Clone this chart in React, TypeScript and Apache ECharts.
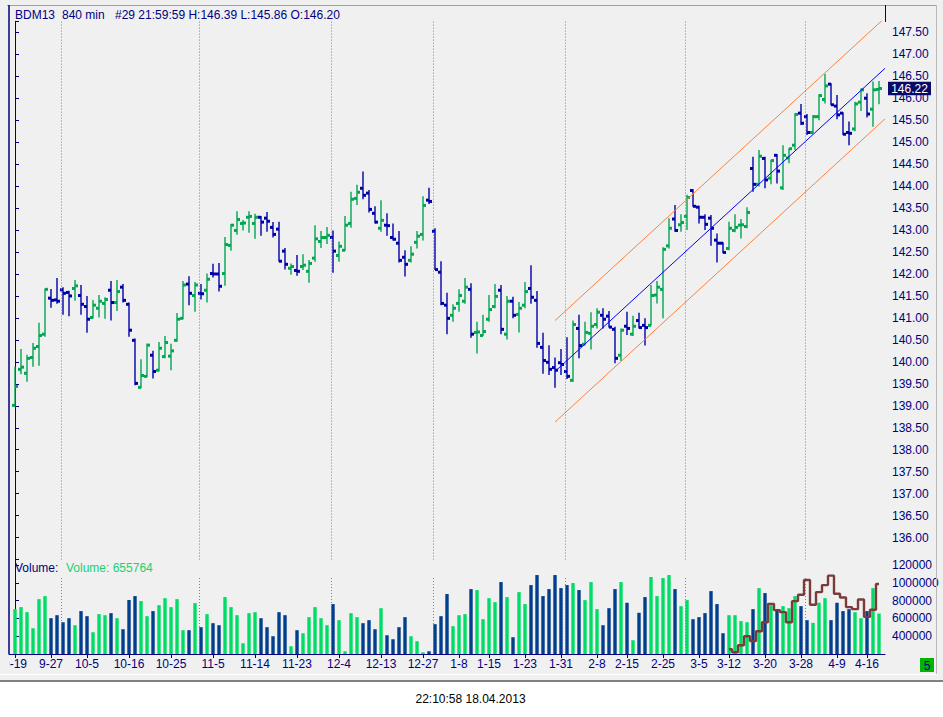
import React, { useEffect, useRef } from 'react';
import * as echarts from 'echarts';

// trading days (one 840-min bar per day)
const dates = [
  '9-19', '9-20', '9-21', '9-24', '9-25', '9-26', '9-27', '9-28',
  '10-1', '10-2', '10-3', '10-4', '10-5', '10-8', '10-9', '10-10', '10-11', '10-12', '10-15', '10-16', '10-17', '10-18', '10-19', '10-22', '10-23', '10-24', '10-25', '10-26', '10-29', '10-30', '10-31',
  '11-1', '11-2', '11-5', '11-6', '11-7', '11-8', '11-9', '11-12', '11-13', '11-14', '11-15', '11-16', '11-19', '11-20', '11-21', '11-22', '11-23', '11-26', '11-27', '11-28', '11-29', '11-30',
  '12-3', '12-4', '12-5', '12-6', '12-7', '12-10', '12-11', '12-12', '12-13', '12-14', '12-17', '12-18', '12-19', '12-20', '12-21', '12-27', '12-28',
  '1-2', '1-3', '1-4', '1-7', '1-8', '1-9', '1-10', '1-11', '1-14', '1-15', '1-16', '1-17', '1-18', '1-21', '1-22', '1-23', '1-24', '1-25', '1-28', '1-29', '1-30', '1-31',
  '2-1', '2-4', '2-5', '2-6', '2-7', '2-8', '2-11', '2-12', '2-13', '2-14', '2-15', '2-18', '2-19', '2-20', '2-21', '2-22', '2-25', '2-26', '2-27', '2-28',
  '3-1', '3-4', '3-5', '3-6', '3-7', '3-8', '3-11', '3-12', '3-13', '3-14', '3-15', '3-18', '3-19', '3-20', '3-21', '3-22', '3-25', '3-26', '3-27', '3-28',
  '4-2', '4-3', '4-4', '4-5', '4-8', '4-9', '4-10', '4-11', '4-12', '4-15', '4-16', '4-17', '4-18',
];

// indices of the labelled dates on the time axis
const labelIdx = [0, 6, 12, 19, 26, 33, 40, 47, 54, 61, 68, 74, 79, 85, 91, 97, 102, 108, 114, 119, 125, 131, 137, 142];
// first bar of each month (dotted separators)
const monthStarts = [8, 31, 53, 70, 92, 112, 132];

const opens = [
  139.01, 139.83, 139.74, 140.10, 140.35, 140.63, 141.45, 141.41, 141.64, 141.58,
  141.67, 141.51, 141.26, 141.01, 141.22, 141.33, 141.63, 141.35, 141.70, 141.31,
  140.49, 139.42, 139.67, 140.15, 139.81, 140.12, 140.13, 140.49, 140.99, 141.77,
  141.51, 141.56, 141.63, 142.01, 142.00, 142.01, 142.65, 142.99, 143.15, 143.29,
  143.15, 143.29, 143.27, 143.06, 143.02, 142.52, 142.13, 142.08, 142.17, 142.06,
  142.36, 142.74, 142.83, 142.83, 142.42, 142.54, 143.15, 143.72, 143.95, 143.84,
  143.38, 143.04, 143.11, 142.83, 142.70, 142.38, 142.31, 142.72, 142.90, 143.68,
  142.97, 142.04, 141.29, 141.06, 141.33, 141.38, 141.65, 140.67, 140.60, 140.97,
  141.26, 141.63, 140.63, 141.38, 141.08, 141.29, 141.67, 141.40, 140.33, 139.99,
  139.87, 139.98, 139.78, 139.58, 140.76, 140.40, 140.65, 140.85, 141.06, 141.04,
  140.74, 140.15, 140.81, 140.63, 140.94, 140.83, 140.83, 141.52, 141.65, 142.64,
  143.25, 143.12, 143.31, 143.90, 143.52, 143.29, 143.27, 142.77, 142.70, 142.58,
  142.99, 143.11, 143.08, 144.40, 144.04, 144.63, 144.18, 144.70, 143.96, 144.64,
  144.93, 145.66, 145.58, 145.22, 145.58, 145.97, 146.32, 145.82, 145.66, 145.22,
  145.30, 145.91, 146.00, 145.75, 146.20,
];
const highs = [
  139.89, 140.29, 140.16, 140.43, 140.89, 141.67, 141.66, 141.91, 141.70, 141.62,
  141.86, 141.75, 141.50, 141.41, 141.52, 141.47, 141.84, 141.86, 141.77, 141.35,
  140.53, 140.06, 140.42, 140.25, 140.45, 140.59, 140.41, 141.11, 141.84, 141.95,
  141.82, 141.77, 142.01, 142.23, 142.25, 142.84, 143.14, 143.43, 143.23, 143.43,
  143.37, 143.32, 143.41, 143.18, 143.19, 142.59, 142.24, 142.43, 142.45, 142.32,
  143.11, 142.98, 143.07, 142.99, 142.74, 143.32, 143.87, 144.03, 144.33, 143.91,
  143.54, 143.68, 143.38, 143.15, 142.98, 142.54, 142.63, 142.98, 143.77, 143.96,
  143.04, 142.29, 141.57, 141.31, 141.65, 141.91, 141.79, 140.91, 141.07, 141.52,
  141.77, 141.75, 141.50, 141.48, 141.36, 141.82, 142.20, 141.61, 140.66, 140.38,
  140.10, 140.29, 140.56, 140.94, 141.07, 140.91, 141.13, 141.22, 141.22, 141.16,
  140.80, 140.76, 141.14, 141.05, 141.12, 140.99, 141.75, 141.84, 142.61, 143.27,
  143.57, 143.36, 143.80, 143.93, 143.55, 143.36, 143.34, 142.92, 142.72, 143.19,
  143.36, 143.25, 143.52, 144.67, 144.82, 144.67, 144.60, 144.73, 144.93, 144.86,
  145.66, 145.87, 145.64, 145.62, 146.09, 146.55, 146.34, 146.07, 145.68, 145.47,
  145.92, 146.22, 146.11, 146.38, 146.39,
];
const lows = [
  138.98, 139.72, 139.55, 139.89, 139.91, 140.57, 141.23, 141.32, 141.07, 141.04,
  141.39, 141.07, 140.66, 140.99, 141.01, 140.98, 140.94, 141.16, 141.35, 140.57,
  139.47, 139.40, 139.65, 139.62, 139.78, 140.08, 139.81, 140.46, 140.97, 141.29,
  141.14, 141.42, 141.35, 141.92, 141.60, 141.73, 142.53, 142.89, 142.99, 142.94,
  142.80, 142.87, 142.96, 142.83, 142.28, 142.10, 141.98, 141.96, 142.09, 141.80,
  142.28, 142.59, 142.68, 142.03, 142.28, 142.52, 143.05, 143.57, 143.70, 143.40,
  143.15, 142.96, 142.87, 142.76, 142.26, 141.94, 142.26, 142.58, 142.76, 143.59,
  142.09, 141.29, 140.63, 140.91, 141.14, 141.32, 140.55, 140.19, 140.59, 140.91,
  141.22, 140.63, 140.51, 140.99, 140.67, 141.22, 141.32, 140.32, 139.73, 139.70,
  139.41, 139.70, 139.61, 139.55, 140.08, 140.38, 140.28, 140.76, 140.76, 140.78,
  139.97, 140.02, 140.61, 140.59, 140.76, 140.37, 140.82, 141.33, 140.99, 142.58,
  142.96, 142.96, 143.00, 143.53, 143.15, 143.00, 142.64, 142.26, 142.47, 142.54,
  142.95, 142.81, 143.04, 143.87, 143.99, 143.95, 144.04, 144.06, 143.91, 144.52,
  144.82, 145.39, 145.16, 145.20, 145.50, 145.88, 145.84, 145.52, 145.16, 144.93,
  145.25, 145.71, 145.56, 145.35, 145.86,
];
const closes = [
  139.44, 139.88, 140.08, 140.31, 140.60, 141.65, 141.40, 141.38, 141.56, 141.50,
  141.73, 141.31, 140.97, 141.29, 141.38, 141.42, 141.35, 141.60, 141.40, 140.72,
  139.51, 139.69, 140.38, 139.78, 140.31, 140.44, 140.25, 140.97, 141.75, 141.56,
  141.75, 141.55, 141.88, 142.00, 141.72, 142.67, 143.11, 143.24, 143.16, 143.31,
  143.29, 143.18, 143.20, 142.90, 142.29, 142.22, 142.17, 142.06, 142.20, 142.24,
  142.80, 142.83, 142.88, 142.52, 142.63, 143.11, 143.70, 143.86, 143.79, 143.47,
  143.18, 143.22, 143.10, 142.79, 142.31, 142.22, 142.45, 142.86, 143.56, 143.65,
  142.10, 141.33, 140.99, 141.22, 141.51, 141.70, 140.63, 140.68, 140.69, 141.19,
  141.49, 140.74, 141.38, 141.06, 141.22, 141.60, 141.47, 140.42, 140.03, 139.83,
  139.81, 139.94, 139.67, 140.85, 140.37, 140.67, 140.81, 141.13, 140.97, 140.79,
  140.08, 140.72, 140.76, 140.81, 140.78, 140.78, 141.51, 141.70, 142.56, 143.04,
  142.99, 143.17, 143.74, 143.54, 143.29, 143.13, 143.04, 142.70, 142.49, 143.04,
  143.06, 143.12, 143.40, 144.04, 144.68, 144.14, 144.58, 144.34, 144.70, 144.85,
  145.63, 145.43, 145.22, 145.58, 146.06, 146.28, 145.85, 145.62, 145.18, 145.20,
  145.87, 146.19, 145.64, 146.19, 146.22,
];
const volumes = [
  705000, 728000, 671000, 490000, 818000, 852000, 603000, 637000, 558000, 603000,
  524000, 683000, 626000, 445000, 649000, 637000, 660000, 603000, 479000, 807000,
  852000, 796000, 626000, 683000, 750000, 829000, 728000, 818000, 468000, 468000,
  773000, 502000, 649000, 547000, 524000, 841000, 728000, 637000, 321000, 660000,
  671000, 603000, 502000, 400000, 671000, 637000, 287000, 468000, 434000, 615000,
  728000, 603000, 524000, 762000, 581000, 231000, 660000, 615000, 547000, 581000,
  479000, 716000, 411000, 366000, 502000, 615000, 400000, 344000, 219000, 231000,
  536000, 626000, 875000, 513000, 637000, 649000, 931000, 920000, 592000, 829000,
  784000, 1010000, 841000, 389000, 897000, 762000, 976000, 1089000, 852000, 931000,
  1089000, 942000, 976000, 999000, 920000, 807000, 1010000, 705000, 524000, 716000,
  931000, 1010000, 777000, 355000, 664000, 841000, 1067000, 852000, 1055000, 1089000,
  931000, 739000, 807000, 592000, 615000, 660000, 908000, 762000, 434000, 637000,
  637000, 570000, 558000, 705000, 942000, 886000, 750000, 705000, 739000, 716000,
  852000, 739000, 581000, 551000, 777000, 829000, 581000, 777000, 683000, 705000,
  671000, 603000, 683000, 942000, 655764,
];

// brown step indicator in the volume panel, starting at bar 119 (3-12)
const stepStart = 119;
const stepValues = [
  253000, 219000, 298000, 400000, 347000, 457000, 558000, 765000, 694000, 671000,
  558000, 795000, 867000, 1033000, 754000, 897000, 976000, 1082000, 878000, 837000,
  728000, 705000, 814000, 618000, 698000, 988000,
];

// regression channel (bar index -> price)
const channelX = [90, 145];
const channelMid = [139.78, 146.68];
const channelUpper = [140.94, 147.83];
const channelLower = [138.63, 145.53];

const NAVY = '#000080';
const UP = '#00a651';
const DOWN = '#0000a8';
const VUP = '#00dd66';
const VDOWN = '#003e8e';
const FONT = 'Liberation Sans';

export default function App() {
  const ref = useRef<HTMLDivElement>(null);

  useEffect(() => {
    const el = ref.current;
    if (!el) return;
    const chart = echarts.init(el, null, { renderer: 'svg' });
    const n = dates.length;
    const last = n - 1;
    const ohlc = dates.map((_, i) => [i, opens[i], highs[i], lows[i], closes[i]]);
    const vol = volumes.map((v, i) => ({
      value: [i, v],
      itemStyle: { color: closes[i] >= opens[i] ? VUP : VDOWN },
    }));
    const step = stepValues.map((v, j) => [stepStart + j, v]);
    const chan = (ys: number[]) => channelX.map((x, j) => [x, ys[j]]);
    const volMin = 200000;
    const volGridTop = 1078000;

    const option: any = {
      animation: false,
      textStyle: { fontFamily: FONT },
      grid: [
        { left: 9, top: 21.3, width: 876, height: 538.3 },
        { left: 9, top: 559.6, width: 876, height: 94.4 },
      ],
      xAxis: [
        { type: 'value', gridIndex: 0, min: -1, max: 145, show: false },
        {
          type: 'value', gridIndex: 1, min: -1, max: 145, position: 'bottom',
          axisLine: { show: true, onZero: false, lineStyle: { color: NAVY, width: 1 } },
          axisTick: { show: true, length: 4, lineStyle: { color: NAVY }, customValues: labelIdx },
          axisLabel: {
            show: true, customValues: labelIdx, color: NAVY, fontSize: 12, fontFamily: FONT, margin: 4,
            formatter: (v: number) => dates[Math.round(v)] ?? '',
          },
          splitLine: { show: false },
        },
      ],
      yAxis: [
        {
          type: 'value', gridIndex: 0, position: 'right', min: 135.5, max: 147.75, interval: 0.5,
          axisLine: { show: true, lineStyle: { color: NAVY, width: 1 } },
          axisTick: { show: true, length: 4, lineStyle: { color: NAVY } },
          axisLabel: {
            color: NAVY, fontSize: 12, fontFamily: FONT, margin: 7,
            formatter: (v: number) => (v < 135.9 || v > 147.6 ? '' : v.toFixed(2)),
          },
          splitLine: { show: false },
        },
        {
          type: 'value', gridIndex: 1, position: 'right', min: volMin, max: 1263000, interval: 200000,
          axisLine: { show: true, lineStyle: { color: NAVY, width: 1 } },
          axisTick: { show: true, length: 4, lineStyle: { color: NAVY } },
          axisLabel: {
            color: NAVY, fontSize: 12, fontFamily: FONT, margin: 7,
            formatter: (v: number) =>
              v === 1200000 ? '120000' : v >= 400000 && v <= 1000000 ? String(v) : '',
          },
          splitLine: { show: false },
        },
      ],
      series: [
        {
          type: 'line', xAxisIndex: 0, yAxisIndex: 0, data: chan(channelMid),
          symbol: 'none', lineStyle: { color: '#0000ff', width: 1 }, clip: true, silent: true,
          markLine: {
            silent: true, symbol: ['none', 'none'], label: { show: false },
            lineStyle: { color: '#808080', type: [1, 2], width: 1 },
            data: monthStarts.map((k) => ({ xAxis: k - 0.3 })),
          },
        },
        {
          type: 'line', xAxisIndex: 0, yAxisIndex: 0, data: chan(channelUpper),
          symbol: 'none', lineStyle: { color: '#ff7f3a', width: 1 }, clip: true, silent: true,
        },
        {
          type: 'line', xAxisIndex: 0, yAxisIndex: 0, data: chan(channelLower),
          symbol: 'none', lineStyle: { color: '#ff7f3a', width: 1 }, clip: true, silent: true,
        },
        {
          type: 'custom', xAxisIndex: 0, yAxisIndex: 0, data: ohlc,
          encode: { x: 0, y: [1, 2, 3, 4] }, silent: true,
          renderItem: (_p: any, api: any) => {
            const x = api.value(0);
            const o = api.value(1), h = api.value(2), l = api.value(3), c = api.value(4);
            const col = c >= o ? UP : DOWN;
            const pH = api.coord([x, h]);
            const pL = api.coord([x, l]);
            const pO = api.coord([x, o]);
            const pC = api.coord([x, c]);
            const xc = pH[0];
            return {
              type: 'group',
              children: [
                { type: 'rect', shape: { x: xc - 0.7, y: pH[1], width: 1.4, height: Math.max(pL[1] - pH[1], 1) }, style: { fill: col } },
                { type: 'rect', shape: { x: xc - 3, y: pO[1] - 1.5, width: 3, height: 3 }, style: { fill: col } },
                { type: 'rect', shape: { x: xc, y: pC[1] - 1.5, width: 3, height: 3 }, style: { fill: col } },
              ],
            };
          },
        },
        {
          type: 'bar', xAxisIndex: 1, yAxisIndex: 1, data: vol, barWidth: 3.4, silent: true,
          markLine: {
            silent: true, symbol: ['none', 'none'], label: { show: false },
            lineStyle: { color: '#808080', type: [1, 2], width: 1 },
            data: monthStarts.map((k) => [
              { coord: [k - 0.3, volMin] },
              { coord: [k - 0.3, volGridTop] },
            ]),
          },
        },
        {
          type: 'line', xAxisIndex: 1, yAxisIndex: 1, data: step, step: 'middle',
          symbol: 'none', lineStyle: { color: '#7b3b3b', width: 2.4 }, silent: true,
        },
      ],
    };
    chart.setOption(option);

    const yTag = chart.convertToPixel({ yAxisIndex: 0 }, closes[last]) as number;
    const txt = (text: string, x: number, y: number, fill: string, align = 'left', z = 50) => ({
      type: 'text', x, y, z, silent: true,
      style: { text, fill, fontSize: 12, fontFamily: FONT, align, verticalAlign: 'middle' },
    });
    const ln = (x1: number, y1: number, x2: number, y2: number, stroke: string, w = 1) => ({
      type: 'line', silent: true, z: 40,
      shape: { x1, y1, x2, y2 }, style: { stroke, lineWidth: w },
    });
    chart.setOption({
      graphic: [
        ln(7, 5.5, 936, 5.5, '#a0a0a0'),
        ln(936.5, 5, 936.5, 675, '#b8b8b8'),
        ln(9, 5, 9, 654, NAVY, 1.5),
        ln(885.5, 5, 885.5, 22, NAVY, 1),
        ln(0, 674.5, 938, 674.5, '#ffffff'),
        ln(0, 681, 943, 681, '#808080', 2),
        { type: 'rect', silent: true, z: 60, shape: { x: 0, y: 655, width: 9.6, height: 18 }, style: { fill: '#f0f0f0' } },
        txt('BDM13', 15, 14.5, NAVY),
        txt('840 min', 62, 14.5, NAVY),
        txt(`#29 21:59:59 H:${highs[last].toFixed(2)} L:${lows[last].toFixed(2)} O:${opens[last].toFixed(2)}`, 115, 14.5, NAVY),
        txt('Volume:', 15, 567.5, NAVY),
        txt(`Volume: ${volumes[last]}`, 66, 567.5, '#20d070'),
        { type: 'rect', silent: true, z: 70, shape: { x: 888, y: yTag - 6.8, width: 43, height: 13.6 }, style: { fill: '#0a0a66' } },
        txt(closes[last].toFixed(2), 909.5, yTag, '#ffffff', 'center', 71),
        { type: 'rect', silent: true, z: 60, shape: { x: 920, y: 658, width: 14, height: 14 }, style: { fill: '#00b400' } },
        txt('5', 927, 665.5, NAVY, 'center', 61),
        txt('22:10:58 18.04.2013', 470.5, 699, '#000000', 'center'),
      ],
    });

    return () => chart.dispose();
  }, []);

  return (
    <div style={{ position: 'fixed', left: 0, top: 0, width: 943, height: 717, background: '#ffffff' }}>
      <div style={{ position: 'absolute', left: 0, top: 0, width: 943, height: 681, background: '#f0f0f0' }} />
      <div ref={ref} style={{ position: 'absolute', left: 0, top: 0, width: 943, height: 717 }} />
    </div>
  );
}
